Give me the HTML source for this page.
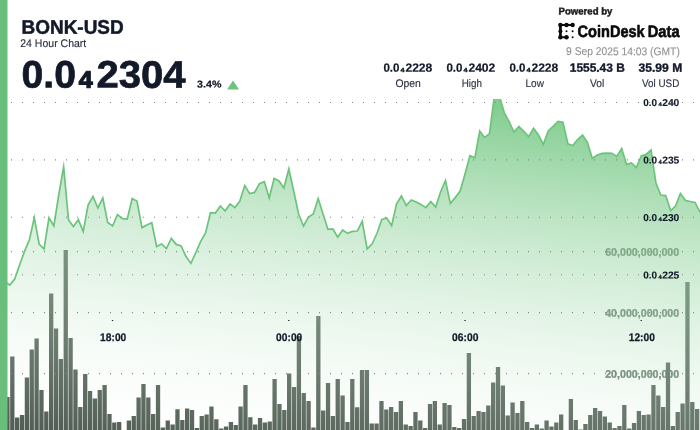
<!DOCTYPE html>
<html><head><meta charset="utf-8"><title>BONK-USD</title>
<style>
html,body{margin:0;padding:0;background:#fff;}
body{width:700px;height:430px;overflow:hidden;}
svg{display:block;font-family:"Liberation Sans",sans-serif;}
</style></head><body>
<svg width="700" height="430" viewBox="0 0 700 430">
<defs>
<linearGradient id="ag" gradientUnits="userSpaceOnUse" x1="498.1" y1="99.8" x2="454.1" y2="494.0"><stop offset="0.0000" stop-color="#6cc47c" stop-opacity="0.8650"/><stop offset="0.0417" stop-color="#72c681" stop-opacity="0.8290"/><stop offset="0.0833" stop-color="#78c987" stop-opacity="0.7929"/><stop offset="0.1250" stop-color="#7ecb8c" stop-opacity="0.7569"/><stop offset="0.1667" stop-color="#84ce92" stop-opacity="0.7208"/><stop offset="0.2083" stop-color="#8bd097" stop-opacity="0.6848"/><stop offset="0.2500" stop-color="#91d39d" stop-opacity="0.6487"/><stop offset="0.2917" stop-color="#97d5a2" stop-opacity="0.6127"/><stop offset="0.3333" stop-color="#9dd8a8" stop-opacity="0.5767"/><stop offset="0.3750" stop-color="#a3daad" stop-opacity="0.5406"/><stop offset="0.4167" stop-color="#a9ddb3" stop-opacity="0.5046"/><stop offset="0.4583" stop-color="#afdfb8" stop-opacity="0.4685"/><stop offset="0.5000" stop-color="#b6e2be" stop-opacity="0.4325"/><stop offset="0.5417" stop-color="#bce4c3" stop-opacity="0.3965"/><stop offset="0.5833" stop-color="#c2e6c8" stop-opacity="0.3604"/><stop offset="0.6250" stop-color="#c8e9ce" stop-opacity="0.3244"/><stop offset="0.6667" stop-color="#ceebd3" stop-opacity="0.2883"/><stop offset="0.7083" stop-color="#d4eed9" stop-opacity="0.2523"/><stop offset="0.7500" stop-color="#daf0de" stop-opacity="0.2162"/><stop offset="0.7917" stop-color="#e0f3e4" stop-opacity="0.1802"/><stop offset="0.8333" stop-color="#e6f5e9" stop-opacity="0.1442"/><stop offset="0.8750" stop-color="#edf8ef" stop-opacity="0.1081"/><stop offset="0.9167" stop-color="#f3faf4" stop-opacity="0.0721"/><stop offset="0.9583" stop-color="#f9fdfa" stop-opacity="0.0360"/><stop offset="1.0000" stop-color="#ffffff" stop-opacity="0.0000"/></linearGradient>
<clipPath id="cp"><rect x="0" y="99" width="700" height="331"/></clipPath>
<filter id="nf" x="0" y="0" width="700" height="430" filterUnits="userSpaceOnUse" color-interpolation-filters="sRGB"><feOffset dx="0" dy="0"/></filter>
</defs>
<rect width="700" height="430" fill="#fff"/>
<g filter="url(#nf)">
<text transform="translate(605.15,255.70) rotate(0.04) scale(0.9691,1)" font-size="11" font-weight="bold" fill="#586c5d" stroke="#586c5d" stroke-width="0.3" stroke-linejoin="round">60,000,000,000</text>
<text transform="translate(605.15,316.70) rotate(0.04) scale(0.9691,1)" font-size="11" font-weight="bold" fill="#586c5d" stroke="#586c5d" stroke-width="0.3" stroke-linejoin="round">40,000,000,000</text>
<text transform="translate(605.15,377.70) rotate(0.04) scale(0.9691,1)" font-size="11" font-weight="bold" fill="#586c5d" stroke="#586c5d" stroke-width="0.3" stroke-linejoin="round">20,000,000,000</text>
</g>
<path d="M5.32 430V397.0h4.3V430zM10.17 430V356.4h4.3V430zM15.03 430V417.6h4.3V430zM19.89 430V415.0h4.3V430zM24.75 430V377.6h4.3V430zM29.60 430V349.5h4.3V430zM34.46 430V338.6h4.3V430zM39.32 430V390.0h4.3V430zM44.17 430V411.6h4.3V430zM49.03 430V293.4h4.3V430zM53.89 430V328.4h4.3V430zM58.74 430V359.0h4.3V430zM63.60 430V250.0h4.3V430zM68.46 430V338.0h4.3V430zM73.31 430V369.6h4.3V430zM78.17 430V407.0h4.3V430zM83.03 430V374.0h4.3V430zM87.89 430V391.0h4.3V430zM92.74 430V398.4h4.3V430zM97.60 430V390.0h4.3V430zM102.46 430V385.0h4.3V430zM107.31 430V414.0h4.3V430zM112.17 430V422.6h4.3V430zM117.03 430V422.0h4.3V430zM126.74 430V420.6h4.3V430zM131.60 430V416.0h4.3V430zM136.46 430V397.4h4.3V430zM141.31 430V384.0h4.3V430zM146.17 430V397.6h4.3V430zM151.03 430V414.0h4.3V430zM155.88 430V385.0h4.3V430zM160.74 430V427.6h4.3V430zM165.60 430V420.4h4.3V430zM170.46 430V424.6h4.3V430zM175.31 430V409.2h4.3V430zM180.17 430V420.0h4.3V430zM185.03 430V408.4h4.3V430zM189.88 430V410.0h4.3V430zM194.74 430V428.0h4.3V430zM199.60 430V416.0h4.3V430zM204.45 430V414.6h4.3V430zM209.31 430V406.6h4.3V430zM214.17 430V419.2h4.3V430zM219.03 430V428.4h4.3V430zM223.88 430V426.6h4.3V430zM228.74 430V422.0h4.3V430zM233.60 430V425.0h4.3V430zM238.45 430V406.6h4.3V430zM243.31 430V385.0h4.3V430zM248.17 430V417.2h4.3V430zM253.02 430V424.4h4.3V430zM257.88 430V418.0h4.3V430zM262.74 430V422.6h4.3V430zM267.59 430V421.4h4.3V430zM272.45 430V379.0h4.3V430zM277.31 430V404.0h4.3V430zM282.17 430V410.0h4.3V430zM287.02 430V373.4h4.3V430zM291.88 430V387.0h4.3V430zM296.74 430V336.0h4.3V430zM301.59 430V393.0h4.3V430zM306.45 430V401.0h4.3V430zM311.31 430V427.6h4.3V430zM316.17 430V316.0h4.3V430zM321.02 430V410.4h4.3V430zM325.88 430V383.0h4.3V430zM330.74 430V416.0h4.3V430zM335.59 430V379.0h4.3V430zM340.45 430V395.6h4.3V430zM345.31 430V422.0h4.3V430zM350.16 430V379.0h4.3V430zM355.02 430V407.2h4.3V430zM359.88 430V370.0h4.3V430zM364.74 430V370.0h4.3V430zM369.59 430V423.4h4.3V430zM374.45 430V423.6h4.3V430zM379.31 430V401.0h4.3V430zM384.16 430V409.6h4.3V430zM389.02 430V407.0h4.3V430zM393.88 430V412.0h4.3V430zM398.73 430V401.0h4.3V430zM403.59 430V424.6h4.3V430zM408.45 430V426.0h4.3V430zM413.31 430V412.0h4.3V430zM418.16 430V420.4h4.3V430zM423.02 430V428.0h4.3V430zM427.88 430V404.0h4.3V430zM432.73 430V401.0h4.3V430zM437.59 430V424.4h4.3V430zM442.45 430V403.0h4.3V430zM447.30 430V405.0h4.3V430zM452.16 430V427.0h4.3V430zM457.02 430V428.0h4.3V430zM461.88 430V419.0h4.3V430zM466.73 430V353.0h4.3V430zM471.59 430V416.0h4.3V430zM476.45 430V411.0h4.3V430zM481.30 430V412.0h4.3V430zM486.16 430V405.6h4.3V430zM491.02 430V382.4h4.3V430zM495.87 430V367.0h4.3V430zM500.73 430V385.4h4.3V430zM505.59 430V415.6h4.3V430zM510.44 430V402.4h4.3V430zM515.30 430V413.0h4.3V430zM520.16 430V401.0h4.3V430zM525.02 430V422.0h4.3V430zM529.87 430V428.0h4.3V430zM534.73 430V424.6h4.3V430zM539.59 430V428.6h4.3V430zM544.44 430V420.6h4.3V430zM549.30 430V426.4h4.3V430zM554.16 430V422.4h4.3V430zM559.02 430V414.6h4.3V430zM568.73 430V399.0h4.3V430zM573.59 430V420.0h4.3V430zM578.44 430V429.4h4.3V430zM583.30 430V424.0h4.3V430zM588.16 430V415.0h4.3V430zM593.01 430V408.0h4.3V430zM597.87 430V411.0h4.3V430zM602.73 430V416.4h4.3V430zM607.59 430V422.4h4.3V430zM612.44 430V428.0h4.3V430zM617.30 430V426.0h4.3V430zM622.16 430V405.0h4.3V430zM627.01 430V428.4h4.3V430zM631.87 430V423.0h4.3V430zM636.73 430V411.0h4.3V430zM641.58 430V415.0h4.3V430zM646.44 430V414.6h4.3V430zM651.30 430V385.0h4.3V430zM656.16 430V395.6h4.3V430zM661.01 430V407.0h4.3V430zM665.87 430V362.4h4.3V430zM670.73 430V426.0h4.3V430zM675.58 430V412.0h4.3V430zM680.44 430V403.4h4.3V430zM685.30 430V281.9h4.3V430zM690.15 430V402.0h4.3V430zM695.01 430V409.0h4.3V430z" fill="#4b584e"/>
<g clip-path="url(#cp)">
<path d="M0.00 282.0 L4.90 281.8 L9.79 285.0 L14.69 279.0 L19.58 265.0 L24.48 251.4 L29.37 240.0 L34.27 217.7 L39.16 244.0 L44.06 249.0 L48.95 217.8 L53.85 226.0 L58.74 195.0 L63.64 166.8 L68.53 220.0 L73.43 226.6 L78.32 219.6 L83.22 231.6 L88.11 205.0 L93.01 196.4 L97.90 208.0 L102.80 198.0 L107.69 222.4 L112.59 226.0 L117.48 214.6 L122.38 218.6 L127.27 219.0 L132.17 198.6 L137.06 201.3 L141.96 227.6 L146.85 225.0 L151.75 222.8 L156.64 246.4 L161.54 244.0 L166.43 248.6 L171.33 238.4 L176.22 244.4 L181.12 246.0 L186.01 256.6 L190.91 263.4 L195.80 252.6 L200.70 241.4 L205.59 233.0 L210.49 212.6 L215.38 213.0 L220.28 206.0 L225.17 211.0 L230.07 204.0 L234.97 207.6 L239.86 201.0 L244.76 185.6 L249.65 193.6 L254.55 192.4 L259.44 183.6 L264.34 181.6 L269.23 198.0 L274.13 178.4 L279.02 181.0 L283.92 188.0 L288.81 169.0 L293.71 191.0 L298.60 214.0 L303.50 226.0 L308.39 217.0 L313.29 214.0 L318.18 198.6 L323.08 214.0 L327.97 229.4 L332.87 229.0 L337.76 237.2 L342.66 230.0 L347.55 233.4 L352.45 231.4 L357.34 231.0 L362.24 221.4 L367.13 249.0 L372.03 244.0 L376.92 233.5 L381.82 219.4 L386.71 218.0 L391.61 225.6 L396.50 204.0 L401.40 196.0 L406.29 205.6 L411.19 200.0 L416.08 202.0 L420.98 204.4 L425.87 207.6 L430.77 201.6 L435.66 207.0 L440.56 192.0 L445.45 180.5 L450.35 203.4 L455.24 197.6 L460.14 191.0 L465.03 174.0 L469.93 155.7 L474.83 157.8 L479.72 131.0 L484.62 137.4 L489.51 133.6 L494.41 95.8 L499.30 95.6 L504.20 112.6 L509.09 121.6 L513.99 132.0 L518.88 126.4 L523.78 131.4 L528.67 136.6 L533.57 128.4 L538.46 135.0 L543.36 144.4 L548.25 131.0 L553.15 126.4 L558.04 121.4 L562.94 122.3 L567.83 143.8 L572.73 145.5 L577.62 139.5 L582.52 135.0 L587.41 142.4 L592.31 158.4 L597.20 155.0 L602.10 153.4 L606.99 153.2 L611.89 153.4 L616.78 156.4 L621.68 148.6 L626.57 164.4 L631.47 163.0 L636.36 167.6 L641.26 156.0 L646.15 154.4 L651.05 150.0 L655.94 183.0 L660.84 195.0 L665.73 195.6 L670.63 210.6 L675.52 206.0 L680.42 193.4 L685.31 200.2 L690.21 201.5 L695.10 202.4 L700.00 212.0 L700 430 L0 430 Z" fill="url(#ag)"/>
</g>
<g clip-path="url(#cp)">
<path d="M0.00 282.0 L4.90 281.8 L9.79 285.0 L14.69 279.0 L19.58 265.0 L24.48 251.4 L29.37 240.0 L34.27 217.7 L39.16 244.0 L44.06 249.0 L48.95 217.8 L53.85 226.0 L58.74 195.0 L63.64 166.8 L68.53 220.0 L73.43 226.6 L78.32 219.6 L83.22 231.6 L88.11 205.0 L93.01 196.4 L97.90 208.0 L102.80 198.0 L107.69 222.4 L112.59 226.0 L117.48 214.6 L122.38 218.6 L127.27 219.0 L132.17 198.6 L137.06 201.3 L141.96 227.6 L146.85 225.0 L151.75 222.8 L156.64 246.4 L161.54 244.0 L166.43 248.6 L171.33 238.4 L176.22 244.4 L181.12 246.0 L186.01 256.6 L190.91 263.4 L195.80 252.6 L200.70 241.4 L205.59 233.0 L210.49 212.6 L215.38 213.0 L220.28 206.0 L225.17 211.0 L230.07 204.0 L234.97 207.6 L239.86 201.0 L244.76 185.6 L249.65 193.6 L254.55 192.4 L259.44 183.6 L264.34 181.6 L269.23 198.0 L274.13 178.4 L279.02 181.0 L283.92 188.0 L288.81 169.0 L293.71 191.0 L298.60 214.0 L303.50 226.0 L308.39 217.0 L313.29 214.0 L318.18 198.6 L323.08 214.0 L327.97 229.4 L332.87 229.0 L337.76 237.2 L342.66 230.0 L347.55 233.4 L352.45 231.4 L357.34 231.0 L362.24 221.4 L367.13 249.0 L372.03 244.0 L376.92 233.5 L381.82 219.4 L386.71 218.0 L391.61 225.6 L396.50 204.0 L401.40 196.0 L406.29 205.6 L411.19 200.0 L416.08 202.0 L420.98 204.4 L425.87 207.6 L430.77 201.6 L435.66 207.0 L440.56 192.0 L445.45 180.5 L450.35 203.4 L455.24 197.6 L460.14 191.0 L465.03 174.0 L469.93 155.7 L474.83 157.8 L479.72 131.0 L484.62 137.4 L489.51 133.6 L494.41 95.8 L499.30 95.6 L504.20 112.6 L509.09 121.6 L513.99 132.0 L518.88 126.4 L523.78 131.4 L528.67 136.6 L533.57 128.4 L538.46 135.0 L543.36 144.4 L548.25 131.0 L553.15 126.4 L558.04 121.4 L562.94 122.3 L567.83 143.8 L572.73 145.5 L577.62 139.5 L582.52 135.0 L587.41 142.4 L592.31 158.4 L597.20 155.0 L602.10 153.4 L606.99 153.2 L611.89 153.4 L616.78 156.4 L621.68 148.6 L626.57 164.4 L631.47 163.0 L636.36 167.6 L641.26 156.0 L646.15 154.4 L651.05 150.0 L655.94 183.0 L660.84 195.0 L665.73 195.6 L670.63 210.6 L675.52 206.0 L680.42 193.4 L685.31 200.2 L690.21 201.5 L695.10 202.4 L700.00 212.0" fill="none" stroke="#6cc47c" stroke-width="1.7" stroke-linejoin="miter" stroke-miterlimit="10" stroke-linecap="butt"/>
</g>
<line x1="11" x2="700" y1="102.4" y2="102.4" stroke="#858585" stroke-width="1.05" stroke-dasharray="1 10"/>
<line x1="11" x2="700" y1="159.85" y2="159.85" stroke="#858585" stroke-width="1.05" stroke-dasharray="1 10"/>
<line x1="11" x2="700" y1="217.3" y2="217.3" stroke="#858585" stroke-width="1.05" stroke-dasharray="1 10"/>
<line x1="11" x2="700" y1="251.6" y2="251.6" stroke="#858585" stroke-width="1.05" stroke-dasharray="1 10"/>
<line x1="11" x2="700" y1="274.75" y2="274.75" stroke="#858585" stroke-width="1.05" stroke-dasharray="1 10"/>
<line x1="11" x2="700" y1="312.6" y2="312.6" stroke="#858585" stroke-width="1.05" stroke-dasharray="1 10"/>
<line x1="11" x2="700" y1="373.6" y2="373.6" stroke="#858585" stroke-width="1.05" stroke-dasharray="1 10"/>
<rect x="0" y="0" width="7.5" height="430" fill="#68be7a"/>
<g opacity="0.999">
<rect x="111.85" y="320" width="1.3" height="1" fill="#121929"/>
<text transform="translate(100.12,341.00) rotate(0.04) scale(0.9293,1)" font-size="11" font-weight="bold" fill="#121929" stroke="#121929" stroke-width="0.25" stroke-linejoin="round">18:00</text>
<rect x="288.15" y="320" width="1.3" height="1" fill="#121929"/>
<text transform="translate(276.12,341.00) rotate(0.04) scale(0.9293,1)" font-size="11" font-weight="bold" fill="#121929" stroke="#121929" stroke-width="0.25" stroke-linejoin="round">00:00</text>
<rect x="464.35" y="320" width="1.3" height="1" fill="#121929"/>
<text transform="translate(452.12,341.00) rotate(0.04) scale(0.9365,1)" font-size="11" font-weight="bold" fill="#121929" stroke="#121929" stroke-width="0.25" stroke-linejoin="round">06:00</text>
<rect x="640.55" y="320" width="1.3" height="1" fill="#121929"/>
<text transform="translate(628.83,341.00) rotate(0.04) scale(0.9222,1)" font-size="11" font-weight="bold" fill="#121929" stroke="#121929" stroke-width="0.25" stroke-linejoin="round">12:00</text>
<text transform="translate(643.15,106.00) rotate(0.04) scale(1.0000,1)" font-size="10" font-weight="bold" fill="#121929" stroke="#121929" stroke-width="0.1" stroke-linejoin="round">0.0</text><text transform="translate(658.45,106.10) rotate(0.04) scale(1.1511,1)" font-size="5.0" font-weight="bold" fill="#121929" stroke="#121929" stroke-width="0.3" stroke-linejoin="round">4</text><text transform="translate(662.15,106.00) rotate(0.04) scale(1.0312,1)" font-size="10" font-weight="bold" fill="#121929" stroke="#121929" stroke-width="0.1" stroke-linejoin="round">240</text>
<text transform="translate(643.15,163.60) rotate(0.04) scale(1.0000,1)" font-size="10" font-weight="bold" fill="#121929" stroke="#121929" stroke-width="0.1" stroke-linejoin="round">0.0</text><text transform="translate(658.45,163.70) rotate(0.04) scale(1.1511,1)" font-size="5.0" font-weight="bold" fill="#121929" stroke="#121929" stroke-width="0.3" stroke-linejoin="round">4</text><text transform="translate(662.15,163.60) rotate(0.04) scale(1.0312,1)" font-size="10" font-weight="bold" fill="#121929" stroke="#121929" stroke-width="0.1" stroke-linejoin="round">235</text>
<text transform="translate(643.15,221.00) rotate(0.04) scale(1.0000,1)" font-size="10" font-weight="bold" fill="#121929" stroke="#121929" stroke-width="0.1" stroke-linejoin="round">0.0</text><text transform="translate(658.45,221.10) rotate(0.04) scale(1.1511,1)" font-size="5.0" font-weight="bold" fill="#121929" stroke="#121929" stroke-width="0.3" stroke-linejoin="round">4</text><text transform="translate(662.15,221.00) rotate(0.04) scale(1.0312,1)" font-size="10" font-weight="bold" fill="#121929" stroke="#121929" stroke-width="0.1" stroke-linejoin="round">230</text>
<text transform="translate(643.15,278.60) rotate(0.04) scale(1.0000,1)" font-size="10" font-weight="bold" fill="#121929" stroke="#121929" stroke-width="0.1" stroke-linejoin="round">0.0</text><text transform="translate(658.45,278.70) rotate(0.04) scale(1.1511,1)" font-size="5.0" font-weight="bold" fill="#121929" stroke="#121929" stroke-width="0.3" stroke-linejoin="round">4</text><text transform="translate(662.15,278.60) rotate(0.04) scale(1.0312,1)" font-size="10" font-weight="bold" fill="#121929" stroke="#121929" stroke-width="0.1" stroke-linejoin="round">225</text>
<text transform="translate(21.55,33.70) rotate(0.04) scale(0.9676,1)" font-size="19.6" font-weight="bold" fill="#121929" stroke="#121929" stroke-width="0.5" stroke-linejoin="round">BONK-USD</text>
<text transform="translate(20.27,47.00) rotate(0.04) scale(0.9560,1)" font-size="11" font-weight="normal" fill="#2a3240" stroke="#2a3240" stroke-width="0.15" stroke-linejoin="round">24 Hour Chart</text>
<text transform="translate(21.55,87.60) rotate(0.04) scale(1.0237,1)" font-size="38.3" font-weight="bold" fill="#121929" stroke="#121929" stroke-width="0.7" stroke-linejoin="round">0.0</text>
<text transform="translate(78.80,87.80) rotate(0.04) scale(1.0417,1)" font-size="24" font-weight="bold" fill="#121929" stroke="#121929" stroke-width="1.2" stroke-linejoin="round">4</text>
<text transform="translate(96.55,87.60) rotate(0.04) scale(1.0456,1)" font-size="38.3" font-weight="bold" fill="#121929" stroke="#121929" stroke-width="0.7" stroke-linejoin="round">2304</text>
<text transform="translate(197.10,87.60) rotate(0.04) scale(1.0706,1)" font-size="10" font-weight="bold" fill="#121929" stroke="#121929" stroke-width="0.2" stroke-linejoin="round">3.4%</text>
<path d="M227 89.6L239 89.6L233 80.4Z" fill="#6cc47c"/>
<text transform="translate(383.40,71.70) rotate(0.04) scale(0.9652,1)" font-size="12" font-weight="bold" fill="#121929" stroke="#121929" stroke-width="0.2" stroke-linejoin="round">0.0</text><text transform="translate(400.56,71.90) rotate(0.04) scale(1.2230,1)" font-size="6.0" font-weight="bold" fill="#121929" stroke="#121929" stroke-width="0.32" stroke-linejoin="round">4</text><text transform="translate(405.40,71.70) rotate(0.04) scale(1.0112,1)" font-size="12" font-weight="bold" fill="#121929" stroke="#121929" stroke-width="0.2" stroke-linejoin="round">2228</text>
<text transform="translate(446.40,71.70) rotate(0.04) scale(0.9652,1)" font-size="12" font-weight="bold" fill="#121929" stroke="#121929" stroke-width="0.2" stroke-linejoin="round">0.0</text><text transform="translate(463.56,71.90) rotate(0.04) scale(1.2230,1)" font-size="6.0" font-weight="bold" fill="#121929" stroke="#121929" stroke-width="0.32" stroke-linejoin="round">4</text><text transform="translate(468.40,71.70) rotate(0.04) scale(1.0112,1)" font-size="12" font-weight="bold" fill="#121929" stroke="#121929" stroke-width="0.2" stroke-linejoin="round">2402</text>
<text transform="translate(509.40,71.70) rotate(0.04) scale(0.9652,1)" font-size="12" font-weight="bold" fill="#121929" stroke="#121929" stroke-width="0.2" stroke-linejoin="round">0.0</text><text transform="translate(526.56,71.90) rotate(0.04) scale(1.2230,1)" font-size="6.0" font-weight="bold" fill="#121929" stroke="#121929" stroke-width="0.32" stroke-linejoin="round">4</text><text transform="translate(531.40,71.70) rotate(0.04) scale(1.0112,1)" font-size="12" font-weight="bold" fill="#121929" stroke="#121929" stroke-width="0.2" stroke-linejoin="round">2228</text>
<text transform="translate(569.77,71.70) rotate(0.04) scale(0.9940,1)" font-size="12" font-weight="bold" fill="#121929" stroke="#121929" stroke-width="0.35" stroke-linejoin="round">1555.43 B</text>
<text transform="translate(638.57,71.70) rotate(0.04) scale(1.0068,1)" font-size="12" font-weight="bold" fill="#121929" stroke="#121929" stroke-width="0.35" stroke-linejoin="round">35.99 M</text>
<text transform="translate(395.47,86.90) rotate(0.04) scale(0.9459,1)" font-size="11" font-weight="normal" fill="#2a3240" stroke="#2a3240" stroke-width="0.15" stroke-linejoin="round">Open</text>
<text transform="translate(461.68,86.90) rotate(0.04) scale(0.8949,1)" font-size="11" font-weight="normal" fill="#2a3240" stroke="#2a3240" stroke-width="0.15" stroke-linejoin="round">High</text>
<text transform="translate(525.48,86.90) rotate(0.04) scale(0.9130,1)" font-size="11" font-weight="normal" fill="#2a3240" stroke="#2a3240" stroke-width="0.15" stroke-linejoin="round">Low</text>
<text transform="translate(590.08,86.90) rotate(0.04) scale(0.9320,1)" font-size="11" font-weight="normal" fill="#2a3240" stroke="#2a3240" stroke-width="0.15" stroke-linejoin="round">Vol</text>
<text transform="translate(642.08,86.90) rotate(0.04) scale(0.8961,1)" font-size="11" font-weight="normal" fill="#2a3240" stroke="#2a3240" stroke-width="0.15" stroke-linejoin="round">Vol USD</text>
<text transform="translate(566.06,55.10) rotate(0.04) scale(0.9110,1)" font-size="11.3" font-weight="normal" fill="#909090" stroke="#909090" stroke-width="0.12" stroke-linejoin="round">9 Sep 2025 14:03 (GMT)</text>
<text transform="translate(558.62,14.50) rotate(0.04) scale(0.9576,1)" font-size="10" font-weight="bold" fill="#1a1a1a" stroke="#1a1a1a" stroke-width="0.45" stroke-linejoin="round">Powered by</text>
<text transform="translate(577.60,37.00) rotate(0.04) scale(0.8814,1)" font-size="16.5" font-weight="bold" fill="#0a0a0a" stroke="#0a0a0a" stroke-width="0.6" stroke-linejoin="round">CoinDesk</text>
<text transform="translate(647.70,37.00) rotate(0.04) scale(0.8921,1)" font-size="16.5" font-weight="bold" fill="#0a0a0a" stroke="#0a0a0a" stroke-width="0.6" stroke-linejoin="round">Data</text>
<g fill="#0a0a0a" stroke="#0a0a0a"><path d="M572.6 25H560.4V37.2H566.5" fill="none" stroke-width="1.9"/><path d="M560.4 25V37.2" fill="none" stroke-width="2.5"/><circle cx="560.4" cy="25" r="2.25" stroke="none"/><circle cx="566.5" cy="25" r="2.25" stroke="none"/><circle cx="572.6" cy="25" r="2.25" stroke="none"/><circle cx="560.4" cy="31.2" r="2.0" stroke="none"/><circle cx="560.4" cy="37.2" r="2.25" stroke="none"/><circle cx="566.5" cy="37.2" r="2.25" stroke="none"/><circle cx="566.5" cy="31.2" r="1.0" stroke="none"/><circle cx="572.6" cy="31.2" r="1.0" stroke="none"/><circle cx="572.6" cy="37.2" r="1.0" stroke="none"/></g>
</g>
</svg></body></html>
